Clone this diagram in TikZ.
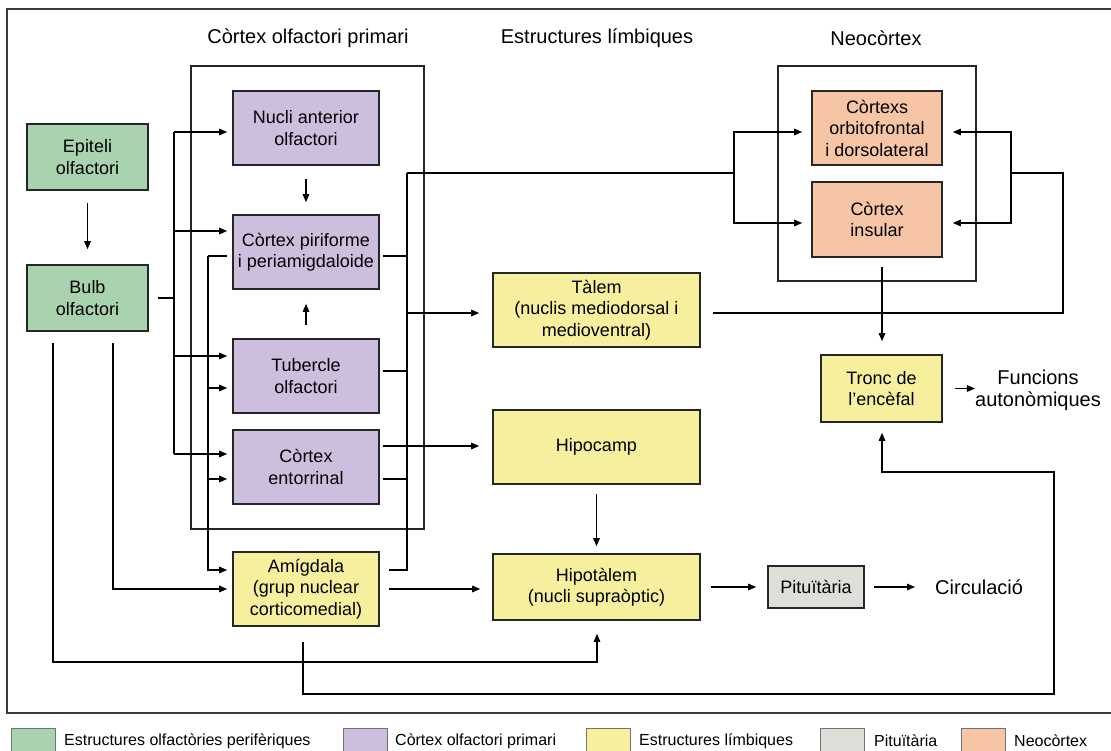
\documentclass[tikz,border=0pt]{standalone}
\usepackage{fontspec}
\setmainfont{Liberation Sans}
\usetikzlibrary{arrows.meta}
\definecolor{cgreen}{HTML}{A8D3AE}
\definecolor{cpurple}{HTML}{CEBEDD}
\definecolor{cyellow}{HTML}{F6EF9E}
\definecolor{cgrey}{HTML}{DDDFD9}
\definecolor{corange}{HTML}{F5C5A6}
\definecolor{cframe}{HTML}{3A3A3A}
\newcommand\bxfont{\fontsize{18}{21.5}\selectfont}
\newcommand\ttlfont{\fontsize{20}{22}\selectfont}
\newcommand\lgfont{\fontsize{16}{18}\selectfont}
\begin{document}
\begin{tikzpicture}[x=1pt,y=-1pt,
  box/.style={draw=black!85, line width=1.6pt, align=center, inner sep=0pt, font=\bxfont},
  grp/.style={draw=black!85, line width=1.6pt, inner sep=0pt},
  con/.style={line width=1.3pt, black},
  arr/.style={con, -{Triangle[length=8pt,width=6.5pt]}, shorten >=5pt},
  lbl/.style={inner sep=0pt, font=\ttlfont, align=center},
  sw/.style={draw=black!55, line width=0.8pt, minimum width=44pt, minimum height=30pt, inner sep=0pt},
  lg/.style={inner sep=0pt, font=\lgfont, anchor=west}]
\useasboundingbox (0,0) rectangle (1111,751);
\fill[white] (0,0) rectangle (1111,751);
% outer frame (right side cut off)
\draw[cframe, line width=1.5pt] (1116,9) -- (7,9) -- (7,713) -- (1116,713);

% titles
\node[lbl] (tprim) at (308,38) {Còrtex olfactori primari};
\node[lbl] (tlimb) at (597,38) {Estructures límbiques};
\node[lbl] (tneo)  at (876,38) {Neocòrtex};

% group boxes
\node[grp, minimum width=233pt, minimum height=463pt] (gprim) at (307.5,297.5) {};
\node[grp, minimum width=198pt, minimum height=215pt] (gneo) at (877,173.5) {};

% nodes
\node[box, fill=cgreen, minimum width=121pt, minimum height=66pt] (epi) at (87.5,157) {Epiteli\\olfactori};
\node[box, fill=cgreen, minimum width=121pt, minimum height=66pt] (bulb) at (87.5,298) {Bulb\\olfactori};
\node[box, fill=cpurple, minimum width=146pt, minimum height=74pt] (nucli) at (306,128) {Nucli anterior\\olfactori};
\node[box, fill=cpurple, minimum width=146pt, minimum height=74pt] (pirif) at (306,252) {Còrtex piriforme\\i periamigdaloide};
\node[box, fill=cpurple, minimum width=146pt, minimum height=74pt] (tuber) at (306,376) {Tubercle\\olfactori};
\node[box, fill=cpurple, minimum width=146pt, minimum height=74pt] (ento) at (306,467) {Còrtex\\entorrinal};
\node[box, fill=cyellow, minimum width=146pt, minimum height=74pt] (amig) at (306,589) {Amígdala\\(grup nuclear\\corticomedial)};
\node[box, fill=cyellow, minimum width=207pt, minimum height=74pt] (talem) at (596.5,310) {Tàlem\\(nuclis mediodorsal i\\medioventral)};
\node[box, fill=cyellow, minimum width=207pt, minimum height=74pt] (hipoc) at (596.5,447) {Hipocamp};
\node[box, fill=cyellow, minimum width=207pt, minimum height=66pt] (hipot) at (596.5,587) {Hipotàlem\\(nucli supraòptic)};
\node[box, fill=corange, minimum width=130pt, minimum height=74pt] (orbito) at (877,128) {Còrtexs\\orbitofrontal\\i dorsolateral};
\node[box, fill=corange, minimum width=130pt, minimum height=75pt] (insul) at (877,219.5) {Còrtex\\insular};
\node[box, fill=cyellow, minimum width=121pt, minimum height=67pt] (tronc) at (881.5,388.5) {Tronc de\\l’encèfal};
\node[box, fill=cgrey, minimum width=96pt, minimum height=42pt] (pit) at (816,587) {Pituïtària};
\node[lbl] (func) at (1038,390) {Funcions\\autonòmiques};
\node[lbl, anchor=west] (circ) at (935,587) {Circulació};

% coordinates
\coordinate (bB) at (174,298);
\coordinate (bN) at (174,132);
\coordinate (bP) at (174,231);
\coordinate (bT) at (174,356);
\coordinate (bE) at (174,454);
\coordinate (pL) at (208,256);
\coordinate (pT) at (208,388);
\coordinate (pE) at (208,479);
\coordinate (pA) at (208,570);
\coordinate (l1) at (53,343);
\coordinate (l1b) at (53,662);
\coordinate (l1c) at (597,662);
\coordinate (l2) at (113,343);
\coordinate (l2b) at (113,589);
\coordinate (r0) at (407,173);
\coordinate (r1) at (407,256);
\coordinate (r2) at (407,371);
\coordinate (r3) at (407,479);
\coordinate (rT) at (407,313);
\coordinate (rA) at (407,570);
\coordinate (eh) at (407,446);
\coordinate (n0) at (734,173);
\coordinate (nU) at (734,132);
\coordinate (nD) at (734,223);
\coordinate (t1) at (1063,313);
\coordinate (t2) at (1063,173);
\coordinate (t3) at (1011,173);
\coordinate (tU) at (1011,132);
\coordinate (tD) at (1011,223);
\coordinate (nb) at (882,267);
\coordinate (a1) at (303,642);
\coordinate (a2) at (303,694);
\coordinate (a3) at (1054,694);
\coordinate (a4) at (1054,472);
\coordinate (a5) at (882,472);
\coordinate (am) at (388,589);

% connectors
\draw[arr, shorten <=12pt, shorten >=15pt] (epi.south) -- (bulb.north);
\draw[con, shorten <=9pt] (bulb.east) -- (bB);
\draw[con] (bN) -- (bE);
\draw[arr] (bN) -- (bN -| nucli.west);
\draw[arr] (bP) -- (bP -| pirif.west);
\draw[arr] (bT) -- (bT -| tuber.west);
\draw[arr] (bE) -- (bE -| ento.west);
\draw[arr, shorten <=13pt, shorten >=12pt] (nucli.south) -- (pirif.north);
\draw[arr, shorten <=13pt, shorten >=14pt] (tuber.north) -- (pirif.south);
\draw[con, shorten <=5pt] (pL -| pirif.west) -- (pL);
\draw[arr] (pL) -- (pA) -- (pA -| amig.west);
\draw[arr] (pT) -- (pT -| tuber.west);
\draw[arr] (pE) -- (pE -| ento.west);
\draw[arr, shorten >=13pt] (l1) -- (l1b) -- (l1c) -- (l1c |- hipot.south);
\draw[arr] (l2) -- (l2b) -- (l2b -| amig.west);
\draw[con, shorten >=9pt] (r0) -- (rA) -- (rA -| amig.east);
\draw[con, shorten <=3pt] (r1 -| pirif.east) -- (r1);
\draw[con, shorten <=3pt] (r2 -| tuber.east) -- (r2);
\draw[con, shorten <=3pt] (r3 -| ento.east) -- (r3);
\draw[arr, shorten >=13pt] (rT) -- (rT -| talem.west);
\draw[arr, shorten <=3pt, shorten >=13pt] (eh -| ento.east) -- (eh -| hipoc.west);
\draw[con] (r0) -- (n0);
\draw[arr, shorten >=9pt] (n0) -- (nU) -- (nU -| orbito.west);
\draw[arr, shorten >=9pt] (n0) -- (nD) -- (nD -| insul.west);
\draw[con, shorten <=12pt] (t1 -| talem.east) -- (t1) -- (t2) -- (t3);
\draw[arr, shorten >=10pt] (t3) -- (tU) -- (tU -| orbito.east);
\draw[arr, shorten >=10pt] (t3) -- (tD) -- (tD -| insul.east);
\draw[arr, shorten >=13pt] (nb) -- (nb |- tronc.north);
\draw[arr, shorten <=12pt, shorten >=0pt] (tronc.east) -- (tronc.east -| func.west);
\draw[arr, shorten >=10pt] (a1) -- (a2) -- (a3) -- (a4) -- (a5) -- (a5 |- tronc.south);
\draw[arr, shorten <=9pt, shorten >=7pt] (hipoc.south) -- (hipot.north);
\draw[arr, shorten <=9pt, shorten >=12pt] (am -| amig.east) -- (am -| hipot.west);
\draw[arr, shorten <=10pt, shorten >=11pt] (hipot.east) -- (pit.west);
\draw[arr, shorten <=9pt, shorten >=20pt] (pit.east) -- (circ.west);

% legend
\node[sw, fill=cgreen] (s1) at (33,743) {};
\node[lg] (g1) at (64,741) {Estructures olfactòries perifèriques};
\node[sw, fill=cpurple] (s2) at (365,743) {};
\node[lg] (g2) at (395,741) {Còrtex olfactori primari};
\node[sw, fill=cyellow] (s3) at (608.5,743) {};
\node[lg] (g3) at (639,741) {Estructures límbiques};
\node[sw, fill=cgrey] (s4) at (842.5,743) {};
\node[lg] (g4) at (874,741) {Pituïtària};
\node[sw, fill=corange] (s5) at (983,743) {};
\node[lg] (g5) at (1014,741) {Neocòrtex};
\end{tikzpicture}
\end{document}
